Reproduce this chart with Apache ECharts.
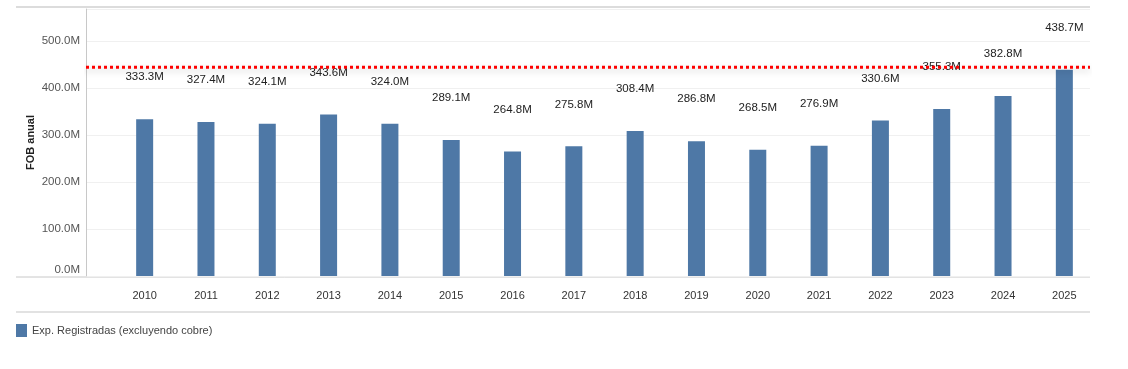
<!DOCTYPE html>
<html><head><meta charset="utf-8">
<script src="https://cdn.jsdelivr.net/npm/echarts@6/dist/echarts.min.js"></script>
<style>html,body{margin:0;padding:0;background:#fff}#c{width:1128px;height:369px}</style>
</head><body><div id="c"></div>
<script>
const years = ['2010','2011','2012','2013','2014','2015','2016','2017','2018','2019','2020','2021','2022','2023','2024','2025'];
const fobValues = [333.3,327.4,324.1,343.6,324.0,289.1,264.8,275.8,308.4,286.8,268.5,276.9,330.6,355.3,382.8,438.7];
const refLineValue = 444;
const seriesName = 'Exp. Registradas (excluyendo cobre)';
const yMax = 568;
const FONT = "'Liberation Sans',Arial,sans-serif";

const chart = echarts.init(document.getElementById('c'), null, {renderer:'canvas'});
chart.setOption({
  animation:false,
  backgroundColor:'#fff',
  grid:[
    {left:86, right:38, top:9, bottom:93},
    {left:114, right:33, top:9, bottom:93}
  ],
  xAxis:[
    {gridIndex:0, type:'value', min:0, max:1, show:false},
    {gridIndex:1, type:'category', data:years, axisLine:{show:false}, axisTick:{show:false},
     axisLabel:{color:'#333', fontSize:11, fontFamily:FONT, margin:14}}
  ],
  yAxis:[
    {gridIndex:0, type:'value', min:0, max:yMax, interval:100,
     name:'FOB anual', nameLocation:'middle', nameGap:50, nameMoveOverlap:false,
     nameTextStyle:{color:'#222', fontSize:11, fontWeight:'bold', fontFamily:FONT},
     axisLine:{show:true, lineStyle:{color:'#c8c8c8', width:1}}, axisTick:{show:false},
     axisLabel:{color:'#555', fontSize:11.5, fontFamily:FONT, margin:6, showMaxLabel:false,
       verticalAlignMinLabel:'bottom',
       formatter:v=> (v%100===0) ? v.toFixed(1)+'M' : ''},
     splitLine:{show:true, lineStyle:{color:'#f0f0f0', width:1}}},
    {gridIndex:1, type:'value', min:0, max:yMax, show:false, splitLine:{show:false}}
  ],
  legend:{left:11, top:319, icon:'rect', itemWidth:11, itemHeight:13, itemGap:6,
    textStyle:{color:'#444', fontSize:11, fontFamily:FONT}, data:[seriesName]},
  series:[
    {type:'bar', name:seriesName, xAxisIndex:1, yAxisIndex:1, data:fobValues, barWidth:17,
     itemStyle:{color:'#4e78a6'},
     label:{show:true, position:'top', distance:36, color:'#222', fontSize:11.5, fontFamily:FONT,
       formatter:p=>p.value.toFixed(1)+'M'}},
    {type:'line', name:'ref', xAxisIndex:0, yAxisIndex:0, data:[[0,refLineValue],[1,refLineValue]],
     symbol:'none', z:5, silent:true,
     lineStyle:{color:'#ff0000', width:3, type:[3,3], shadowColor:'rgba(0,0,0,0.25)', shadowBlur:6, shadowOffsetY:3}}
  ],
  graphic:[
    {type:'line', shape:{x1:16, y1:7, x2:1090, y2:7}, style:{stroke:'#dcdcdc', lineWidth:2}},
    {type:'line', shape:{x1:16, y1:277, x2:1090, y2:277}, style:{stroke:'#c8c8c8', lineWidth:1}},
    {type:'line', shape:{x1:16, y1:312, x2:1090, y2:312}, style:{stroke:'#e2e2e2', lineWidth:2}}
  ]
});
</script></body></html>
